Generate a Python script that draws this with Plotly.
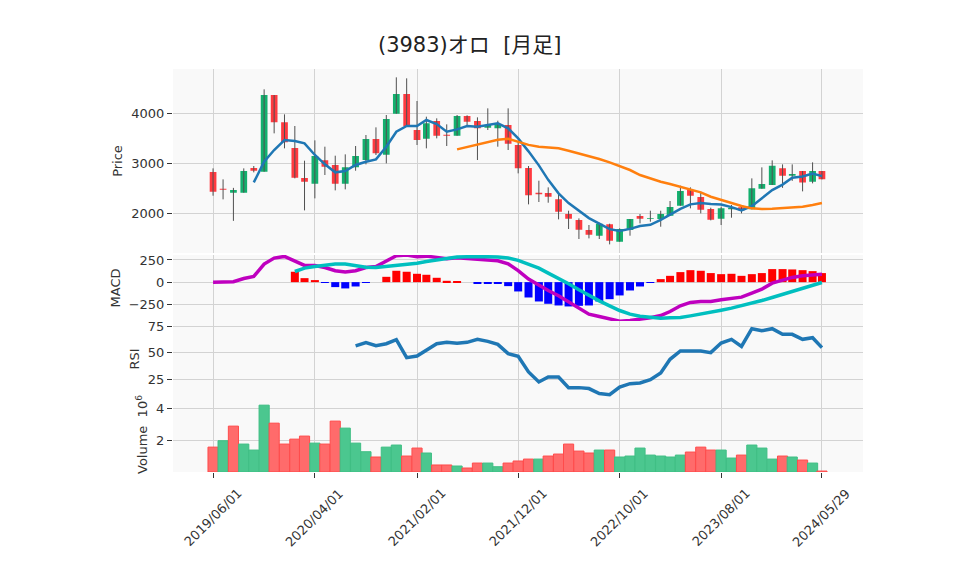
import plotly.graph_objects as go
from plotly.subplots import make_subplots
import pandas as pd

# ---------------- data ----------------
dates = list(pd.date_range('2019-06-01', '2024-05-01', freq='MS').strftime('%Y-%m-%d')) + ['2024-05-29']

open_ = [2827, 2490, 2413, 2413, 2907, 2833, 4367, 3820, 3307, 2707,
         2593, 3060, 2967, 2593, 2920, 3067, 3487, 3173, 3993, 4387,
         3667, 3493, 3847, 3573, 3553, 3947, 3847, 3713, 3700, 3767,
         3367, 2907, 2413, 2407, 2280, 1987, 1867, 1667, 1553, 1780,
         1433, 1667, 1947, 1893, 1887, 1953, 2153, 2467, 2327, 2087,
         1893, 2080, 2120, 2080, 2493, 2567, 2900, 2753, 2847, 2633, 2847]
high = [2900, 2680, 2510, 2900, 2947, 4480, 4367, 3980, 3747, 3053,
        3460, 3333, 3153, 3180, 3347, 3567, 3720, 3967, 4720, 4700,
        4247, 3933, 3900, 3780, 3967, 3960, 3920, 4100, 3853, 4100,
        3433, 2947, 2653, 2520, 2400, 2053, 1900, 1767, 1813, 1793,
        1700, 1887, 1987, 2053, 2053, 2247, 2553, 2520, 2433, 2113,
        2133, 2167, 2150, 2700, 2920, 3060, 2980, 2980, 2847, 3020, 2847]
low = [2353, 2280, 1850, 2413, 2820, 2833, 3600, 3300, 2700, 2060,
       2300, 2767, 2460, 2480, 2853, 2980, 3167, 3000, 3993, 3740,
       3367, 3300, 3500, 3347, 3553, 3733, 3067, 3667, 3333, 3267,
       2800, 2180, 2227, 2213, 1880, 1687, 1487, 1500, 1487, 1380,
       1433, 1553, 1800, 1833, 1733, 1953, 2153, 2100, 2000, 1860,
       1767, 1913, 2000, 2080, 2493, 2567, 2510, 2650, 2440, 2600, 2680]
close = [2433, 2470, 2467, 2847, 2853, 4367, 3820, 3420, 2713, 2633,
         3147, 2933, 2593, 2920, 3147, 3487, 3200, 3887, 4387, 3740,
         3467, 3800, 3553, 3550, 3947, 3833, 3700, 3767, 3787, 3393,
         2900, 2360, 2380, 2333, 2033, 1893, 1673, 1573, 1793, 1453,
         1687, 1887, 1893, 1907, 1987, 2127, 2447, 2353, 2073, 1873,
         2100, 2113, 2060, 2500, 2587, 2950, 2753, 2787, 2615, 2847, 2680]

# volume in millions of shares; direction: 1 = up (green), 0 = down (red)
volume = [1.56, 1.96, 2.875, 1.75, 1.375, 4.19, 3.06, 1.75, 2.06, 2.25,
          1.81, 1.75, 3.19, 2.75, 1.81, 1.27, 0.94, 1.56, 1.69, 1.0,
          1.5, 1.19, 0.44, 0.44, 0.375, 0.25, 0.56, 0.56, 0.33, 0.56,
          0.69, 0.81, 0.81, 1.0, 1.125, 1.75, 1.31, 1.19, 1.375, 1.375,
          0.94, 1.0, 1.5, 1.06, 1.0, 0.94, 1.06, 1.25, 1.56, 1.375,
          1.375, 0.875, 1.06, 1.69, 1.5, 0.81, 1.0, 0.94, 0.75, 0.56, 0.06]
vol_up = [0, 1, 0, 1, 1, 1, 0, 0, 0, 0,
          1, 0, 0, 1, 1, 1, 0, 1, 1, 0,
          0, 1, 0, 0, 1, 0, 0, 1, 1, 0,
          0, 0, 1, 0, 0, 0, 0, 0, 1, 0,
          1, 1, 1, 1, 1, 1, 1, 0, 0, 0,
          1, 1, 0, 1, 1, 1, 0, 1, 0, 1, 0]

# 5-month moving average (from index 4) and 25-month (from index 24)
ma5 = [2620, 3033, 3267, 3467, 3447, 3400, 3167, 2980, 2820, 2847,
       2967, 3033, 3080, 3333, 3633, 3747, 3747, 3867, 3787, 3633,
       3680, 3747, 3733, 3767, 3800, 3700, 3500, 3240, 2960, 2670,
       2400, 2205, 2058, 1905, 1795, 1685, 1650, 1690, 1748, 1772,
       1870, 1975, 2090, 2180, 2205, 2188, 2178, 2125, 2060, 2145,
       2295, 2465, 2575, 2714, 2736, 2795, 2745]
ma25 = [3280, 3325, 3378, 3430, 3470, 3490, 3430, 3369, 3332, 3318,
        3300, 3253, 3200, 3153, 3087, 3020, 2947, 2867, 2767, 2693,
        2633, 2587, 2533, 2487, 2420, 2333, 2267, 2200, 2147, 2100,
        2087, 2093, 2107, 2120, 2133, 2167, 2207]

# MACD line (from index 0), signal (from index 8), histogram (from index 8)
macd = [0, 0, 4, 41, 64, 203, 271, 290, 241, 188,
        188, 165, 128, 113, 128, 165, 177, 233, 297, 305,
        286, 293, 274, 263, 274, 267, 256, 248, 241, 207,
        130, 34, -38, -94, -154, -226, -293, -361, -387, -414,
        -440, -432, -421, -402, -376, -331, -267, -229, -218, -218,
        -199, -180, -169, -124, -79, -11, 26, 53, 71, 86, 90]
signal = [120, 158, 177, 192, 203, 203, 188, 169, 165, 177,
          188, 199, 214, 233, 252, 267, 282, 286, 290, 286,
          282, 271, 245, 203, 158, 102, 45, -19, -86, -150,
          -211, -267, -320, -361, -384, -395, -406, -402, -399, -380,
          -361, -338, -316, -293, -267, -237, -207, -173, -139, -105,
          -75, -41, -4]
hist = [117, 45, 23, -5, -56, -71, -49, -8, 0, 60,
        128, 117, 94, 83, 49, 15, 12, 0, -10, -10,
        -10, -45, -105, -173, -218, -244, -263, -274, -267, -263,
        -218, -192, -150, -94, -49, -8, 34, 71, 113, 135,
        128, 102, 90, 94, 71, 90, 102, 147, 147, 143,
        135, 124, 102]

# RSI (from index 14)
rsi = [56.3, 59.4, 56.6, 58.4, 62.2, 45.3, 46.9, 52.8, 58.4, 59.7,
       58.8, 59.7, 62.5, 60.6, 57.8, 49.1, 46.6, 31.9, 22.5, 27.2,
       27.2, 17.2, 17.2, 16.3, 11.6, 10.6, 17.8, 20.9, 21.6, 24.7,
       30.9, 43.8, 51.6, 51.6, 51.6, 50.0, 59.0, 62.5, 55.9, 72.5,
       70.6, 72.5, 67.2, 67.2, 62.5, 64.0, 54.7]

tick_dates = ['2019-06-01', '2020-04-01', '2021-02-01', '2021-12-01',
              '2022-10-01', '2023-08-01', '2024-05-29']
tick_text = ['2019/06/01', '2020/04/01', '2021/02/01', '2021/12/01',
             '2022/10/01', '2023/08/01', '2024/05/29']

# ---------------- styling ----------------
GREEN = '#13B06E'
RED = '#FF3A40'
VOL_GREEN = '#4BC78F'
VOL_RED = '#FF6B6B'
VOL_GREEN_LINE = '#3FBE84'
VOL_RED_LINE = '#FF4B4B'
DAY_MS = 86400000

fig = make_subplots(rows=4, cols=1, shared_xaxes=True, vertical_spacing=0)

# wicks (high-low) drawn beneath the bodies
wx, wy = [], []
for d, h, l in zip(dates, high, low):
    wx += [d, d, None]
    wy += [l, h, None]
fig.add_trace(go.Scatter(x=wx, y=wy, mode='lines', line=dict(color='#505050', width=1),
                         hoverinfo='skip', showlegend=False), row=1, col=1)
fig.add_trace(go.Candlestick(x=dates, open=open_, high=high, low=low, close=close,
                             increasing=dict(line=dict(color=GREEN, width=0), fillcolor=GREEN),
                             decreasing=dict(line=dict(color=RED, width=0), fillcolor=RED),
                             showlegend=False), row=1, col=1)
fig.add_trace(go.Scatter(x=dates[4:], y=ma5, mode='lines', line=dict(color='#1F77B4', width=2.5),
                         showlegend=False), row=1, col=1)
fig.add_trace(go.Scatter(x=dates[24:], y=ma25, mode='lines', line=dict(color='#FF7F0E', width=2.5),
                         showlegend=False), row=1, col=1)

# MACD
fig.add_trace(go.Bar(x=dates[8:], y=hist, width=[24 * DAY_MS] * len(hist),
                     marker=dict(color=['#FF0000' if v >= 0 else '#0000FF' for v in hist], line=dict(width=0)),
                     showlegend=False), row=2, col=1)
fig.add_trace(go.Scatter(x=dates, y=macd, mode='lines', line=dict(color='#BF00BF', width=3.5),
                         showlegend=False), row=2, col=1)
fig.add_trace(go.Scatter(x=dates[8:], y=signal, mode='lines', line=dict(color='#00BFBF', width=3.5),
                         showlegend=False), row=2, col=1)

# RSI
fig.add_trace(go.Scatter(x=dates[14:], y=rsi, mode='lines', line=dict(color='#1F77B4', width=3.5),
                         showlegend=False), row=3, col=1)

# Volume
fig.add_trace(go.Bar(x=dates, y=volume, width=[30.4 * DAY_MS] * len(volume),
                     marker=dict(color=[VOL_GREEN if u else VOL_RED for u in vol_up],
                                 line=dict(color=[VOL_GREEN_LINE if u else VOL_RED_LINE for u in vol_up], width=1)),
                     showlegend=False), row=4, col=1)

FONT = 'DejaVu Sans, Verdana, sans-serif'
GRID = '#D3D3D3'
TXT = '#333333'

fig.update_layout(
    width=958, height=575,
    margin=dict(l=165, r=103, t=61, b=111),
    paper_bgcolor='white', plot_bgcolor='#F9F9F9',
    font=dict(family=FONT, size=13, color=TXT),
    title=dict(text='(3983)オロ\u00a0\u00a0[月足]', x=0.482, xanchor='center', y=0.9357, yanchor='middle',
               font=dict(family='DejaVu Sans, Noto Sans CJK JP', size=21, color='#222222')),
    showlegend=False, bargap=0.2, boxgap=0.28, boxgroupgap=0,
)

for i in range(1, 5):
    fig.update_xaxes(type='date', range=['2019-02-01', '2024-09-29'], showgrid=True, gridcolor=GRID,
                     tickvals=tick_dates, ticktext=tick_text, rangeslider_visible=False,
                     zeroline=False, showline=False, automargin=False, showticklabels=False,
                     row=i, col=1)
fig.update_xaxes(ticks='outside', ticklen=5, tickcolor=TXT, row=4, col=1)

# date labels rotated 45 degrees, centred on their ticks
for d, t in zip(tick_dates, tick_text):
    fig.add_annotation(x=d, xref='x4', y=-0.114, yref='paper', text=t, textangle=-45,
                       showarrow=False, xanchor='center', yanchor='middle',
                       font=dict(family=FONT, size=13, color=TXT))

common_y = dict(showgrid=True, gridcolor=GRID, zeroline=False, ticks='outside', ticklen=5,
                tickcolor=TXT, showline=False, automargin=False, tickfont=dict(size=13, color=TXT))
TF = dict(size=13, color=TXT)
fig.update_yaxes(domain=[0.5434, 1.0], range=[1207, 4887], tickvals=[2000, 3000, 4000],
                 title=dict(text='Price', standoff=5, font=TF), row=1, col=1, **common_y)
fig.update_yaxes(domain=[0.3747, 0.5385], range=[-438, 306], tickvals=[-250, 0, 250],
                 ticktext=['−250', '0', '250'], title=dict(text='MACD', standoff=5, font=TF),
                 row=2, col=1, **common_y)
fig.update_yaxes(domain=[0.1861, 0.3747], range=[8.4, 79.7], tickvals=[25, 50, 75],
                 title=dict(text='RSI', standoff=5, font=TF), row=3, col=1, **common_y)
fig.update_yaxes(domain=[0.0, 0.1861], range=[0, 4.7], tickvals=[2, 4],
                 title=dict(text='Volume  10<sup>6</sup>', standoff=5, font=TF), row=4, col=1, **common_y)

fig.write_html('out.html')
